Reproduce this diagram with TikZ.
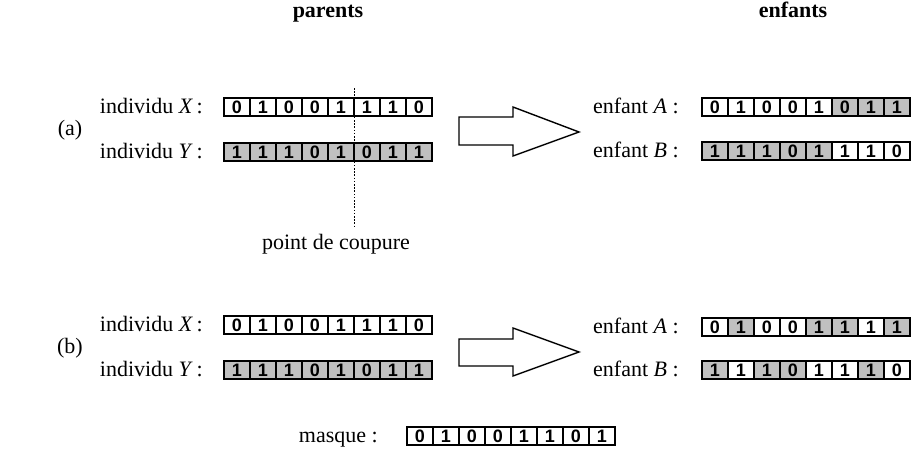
\documentclass[tikz,border=0pt]{standalone}
\usepackage{fontspec}
\setmainfont{Liberation Serif}
\newfontfamily\bitfont{Liberation Sans}
\usepackage{xcolor}
\usetikzlibrary{positioning}

\definecolor{gris}{RGB}{192,192,192}

% one chromosome: name, left edge, centre y, bits/fills
\newcommand{\chromo}[4]{%
  \foreach \b/\c [count=\i] in {#4}
    \node[bit,fill=\c] (#1\i) at ({#2+26*\i-13},#3) {\b};
}

\begin{document}
\begin{tikzpicture}[x=0.5pt,y=-0.5pt,font=\fontsize{11}{13}\selectfont,
    bit/.style={draw,line width=0.9pt,minimum width=13pt,minimum height=9pt,
      inner sep=0pt,font=\bitfont\bfseries\fontsize{9}{10}\selectfont},
    etiq/.style={inner sep=0pt},
    titre/.style={anchor=base,font=\bfseries\fontsize{11}{13}\selectfont},
    bloc/.style={draw,line width=0.7pt,line join=miter}]

    \useasboundingbox (0,0) rectangle (912,450);

    \node[titre] (parents) at (328,17) {parents};
    \node[titre] (enfants) at (793,17) {enfants};

    % (a) croisement en un point
    \node (a) at (70,130) {(a)};

    \chromo{aX}{224}{107}{0/white,1/white,0/white,0/white,1/white,1/white,1/white,0/white}
    \chromo{aY}{224}{152}{1/gris,1/gris,1/gris,0/gris,1/gris,0/gris,1/gris,1/gris}
    \node[etiq, mid left=10pt of aX1] (laX) {individu \textit{X}\,:};
    \node[etiq, mid left=10pt of aY1] (laY) {individu \textit{Y}\,:};

    \chromo{aA}{702}{107}{0/white,1/white,0/white,0/white,1/white,0/gris,1/gris,1/gris}
    \chromo{aB}{702}{151}{1/gris,1/gris,1/gris,0/gris,1/gris,1/white,1/white,0/white}
    \node[etiq, mid left=11pt of aA1] (laA) {enfant \textit{A} :};
    \node[etiq, mid left=11pt of aB1] (laB) {enfant \textit{B} :};

    \coordinate (cut1) at (354,88);
    \node (coupure) at (336,244) {point de coupure};
    \draw[line width=0.5pt,dash pattern=on 0.8pt off 0.8pt] (cut1) -- (cut1 |- coupure.north);

    \draw[bloc] (459,117) -- (513,117) -- (513,107) -- (579,132) -- (513,156)
        -- (513,145) -- (459,145) -- cycle;

    % (b) croisement uniforme
    \node (b) at (70,348) {(b)};

    \chromo{bX}{224}{325}{0/white,1/white,0/white,0/white,1/white,1/white,1/white,0/white}
    \chromo{bY}{224}{370}{1/gris,1/gris,1/gris,0/gris,1/gris,0/gris,1/gris,1/gris}
    \node[etiq, mid left=10pt of bX1] (lbX) {individu \textit{X}\,:};
    \node[etiq, mid left=10pt of bY1] (lbY) {individu \textit{Y}\,:};

    \chromo{bA}{702}{327}{0/white,1/gris,0/white,0/white,1/gris,1/gris,1/white,1/gris}
    \chromo{bB}{702}{370}{1/gris,1/white,1/gris,0/gris,1/white,1/white,1/gris,0/white}
    \node[etiq, mid left=11pt of bA1] (lbA) {enfant \textit{A} :};
    \node[etiq, mid left=11pt of bB1] (lbB) {enfant \textit{B} :};

    \draw[bloc] (459,339) -- (513,339) -- (513,328) -- (579,352) -- (513,376)
        -- (513,366) -- (459,366) -- cycle;

    \chromo{mq}{407}{436}{0/white,1/white,0/white,0/white,1/white,1/white,0/white,1/white}
    \node[etiq, mid left=14pt of mq1] (lmq) {masque :};
\end{tikzpicture}
\end{document}
